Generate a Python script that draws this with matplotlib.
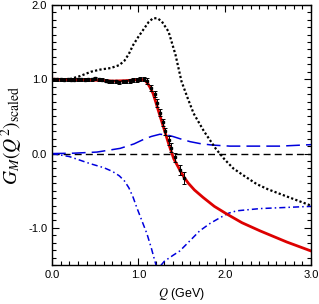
import numpy as np
import matplotlib.pyplot as plt
from matplotlib.ticker import MultipleLocator

plt.rcParams['font.family'] = ['Liberation Sans', 'DejaVu Sans']
plt.rcParams['mathtext.fontset'] = 'stix'

# red solid: fit
q_fit = [0.0, 0.2, 0.4, 0.55, 0.7, 0.85, 0.95, 1.02, 1.05, 1.08, 1.11, 1.14, 1.17, 1.20, 1.23,
         1.29, 1.35, 1.41, 1.48, 1.53, 1.58, 1.65, 1.75, 1.88, 2.02, 2.2, 2.41, 2.72, 3.0]
g_fit = [1.0, 0.995, 0.99, 0.985, 0.975, 0.98, 0.99, 1.0, 0.995, 0.98, 0.94, 0.88, 0.81, 0.70, 0.585,
         0.36, 0.135, -0.07, -0.22, -0.32, -0.40, -0.49, -0.59, -0.71, -0.81, -0.93, -1.04, -1.19, -1.31]

# black dotted
q_dot = [0.0, 0.2, 0.32, 0.45, 0.56, 0.68, 0.78, 0.84, 0.89, 0.94, 1.00, 1.06, 1.12, 1.17, 1.22,
         1.27, 1.35, 1.43, 1.50, 1.57, 1.64, 1.70, 1.76, 1.83, 1.90, 2.0, 2.1, 2.2, 2.37, 2.5, 2.68, 3.0]
g_dot = [1.0, 1.0, 1.04, 1.1, 1.13, 1.15, 1.19, 1.25, 1.34, 1.46, 1.57, 1.67, 1.77, 1.82, 1.82,
         1.78, 1.64, 1.33, 0.97, 0.75, 0.54, 0.42, 0.30, 0.18, 0.06, -0.08, -0.2, -0.28, -0.41,
         -0.48, -0.56, -0.70]

# blue dashed
q_dash = [0.0, 0.25, 0.52, 0.79, 0.95, 1.06, 1.15, 1.25, 1.33, 1.40, 1.48, 1.6, 1.71, 1.85, 2.06,
          2.64, 3.0]
g_dash = [0.0, 0.005, 0.02, 0.07, 0.13, 0.19, 0.23, 0.26, 0.25, 0.23, 0.2, 0.16, 0.135, 0.115, 0.10,
          0.10, 0.12]

# blue dash-dot
q_dd = [0.0, 0.2, 0.44, 0.6, 0.7, 0.78, 0.84, 0.89, 0.94, 0.98, 1.04, 1.10, 1.15, 1.19, 1.22, 1.25,
        1.30, 1.40, 1.48, 1.6, 1.71, 1.83, 1.95, 2.05, 2.14, 2.41, 3.0]
g_dd = [0.0, -0.04, -0.135, -0.19, -0.24, -0.30, -0.37, -0.46, -0.59, -0.72, -0.90, -1.08, -1.27,
        -1.44, -1.56, -1.52, -1.45, -1.37, -1.31, -1.17, -1.04, -0.94, -0.86, -0.80, -0.77, -0.74, -0.71]

# data
q_data = [0.02, 0.06, 0.10, 0.14, 0.18, 0.22, 0.26, 0.30, 0.34, 0.38, 0.42, 0.46, 0.50, 0.54,
          0.58, 0.62, 0.66, 0.70, 0.74, 0.78, 0.82, 0.86, 0.90, 0.94, 0.98, 1.02, 1.06,
          1.10, 1.15, 1.19, 1.22, 1.25, 1.28, 1.31, 1.35, 1.38, 1.42, 1.48, 1.53]
g_data = [1.0, 1.0, 1.0, 0.99, 1.0, 0.99, 0.99, 1.0, 1.0, 0.99, 1.0, 1.0, 1.01, 1.0,
          0.99, 0.98, 0.97, 0.97, 0.97, 0.96, 0.97, 0.97, 0.98, 0.99, 0.99, 1.0, 1.0,
          0.97, 0.88, 0.80, 0.68, 0.55, 0.42, 0.30, 0.18, 0.08, -0.05, -0.22, -0.33]
g_err = [0.02] * 20 + [0.025] * 7 + [0.04, 0.04, 0.04, 0.05, 0.05, 0.05, 0.05, 0.06,
                                      0.06, 0.06, 0.07, 0.08]

fig = plt.figure(figsize=(3.19, 3.04), dpi=100)
ax = fig.add_axes([0.163, 0.128, 0.812, 0.856])

ax.axhline(0, color='black', lw=1.0, ls=(0, (5, 3)))
ax.plot(q_dd, g_dd, color='#0000dd', lw=1.1, ls=(0, (4, 2, 1, 2)))
ax.plot(q_dash, g_dash, color='#0000dd', lw=1.1, ls=(0, (9, 4)))
ax.plot(q_dot, g_dot, color='black', lw=1.6, ls=(0, (1, 1)))
ax.plot(q_fit, g_fit, color='#dd0000', lw=2.0)
ax.errorbar(q_data, g_data, yerr=g_err, fmt='s', color='black', ms=1.8, elinewidth=0.7,
            capsize=1.3, capthick=0.7)

ax.set_xlim(0, 3.0)
ax.set_ylim(-1.5, 2.0)
ax.xaxis.set_major_locator(MultipleLocator(1.0))
ax.xaxis.set_minor_locator(MultipleLocator(0.1))
ax.yaxis.set_major_locator(MultipleLocator(1.0))
ax.yaxis.set_minor_locator(MultipleLocator(0.1))
ax.tick_params(which='both', direction='in', top=True, right=True, labelsize=8)
ax.tick_params(which='major', length=5, width=0.8)
ax.tick_params(which='minor', length=3, width=0.8)
ax.set_xticklabels([f'{v:.1f}' for v in ax.get_xticks()])
ax.set_yticklabels([f'{v:.1f}' for v in ax.get_yticks()])

ax.set_xlabel(r'$Q$ (GeV)', fontsize=9)
ax.set_ylabel(r'$G_M(Q^2)_{\rm scaled}$', fontsize=14, labelpad=2)
for s in ax.spines.values():
    s.set_linewidth(1.0)

fig.savefig('out.png', dpi=100)
